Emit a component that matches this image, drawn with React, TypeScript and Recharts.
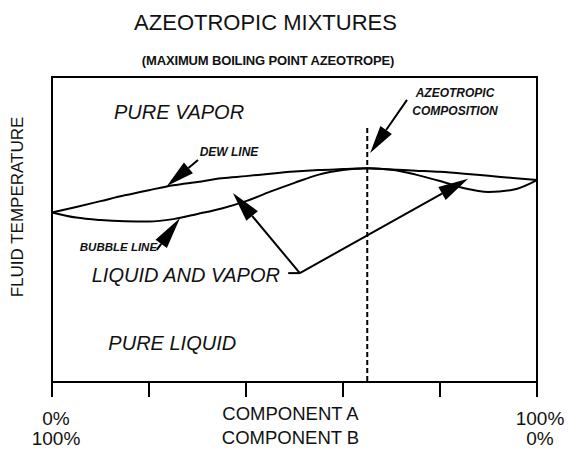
import React from 'react';
import { LineChart, Line, XAxis, YAxis, ReferenceLine, ReferenceArea, ReferenceDot, Label } from 'recharts';

// ---- data ----
const composition = [0, 5, 10, 15, 20, 25, 30, 35, 40, 45, 50, 55, 60, 65, 70, 75, 80, 85, 90, 95, 100];
const dewLine = [55.6, 57.4, 59.3, 61.2, 62.9, 64.5, 65.6, 66.8, 67.5, 68.3, 69.0, 69.5, 69.8, 70.1, 69.7, 69.3, 68.9, 68.3, 67.6, 66.9, 66.2];
const bubbleLine = [55.6, 53.9, 53.1, 52.7, 52.6, 53.4, 55.1, 56.9, 59.3, 62.4, 65.3, 68.0, 69.5, 70.1, 69.6, 68.0, 65.9, 63.5, 62.3, 63.0, 66.2];
const xTicks = [0, 20, 40, 60, 80, 100];
const leftTickLabel = ['0%', '100%'];
const rightTickLabel = ['100%', '0%'];
const centerAxisLabel = ['COMPONENT A', 'COMPONENT B'];
const azeotropeX = 65;

const titleText = 'AZEOTROPIC MIXTURES';
const subtitleText = '(MAXIMUM BOILING POINT AZEOTROPE)';
const yAxisTitle = 'FLUID TEMPERATURE';

const data = composition.map((x, i) => ({ x, dew: dewLine[i], bubble: bubbleLine[i] }));

const FONT = '"Liberation Sans", Arial, Helvetica, sans-serif';

const arrowShape = (headLen: number, headW: number) => (props: any) => {
  const { x1, y1, x2, y2 } = props;
  const dx = x2 - x1;
  const dy = y2 - y1;
  const len = Math.sqrt(dx * dx + dy * dy) || 1;
  const ux = dx / len;
  const uy = dy / len;
  const bx = x2 - ux * headLen;
  const by = y2 - uy * headLen;
  const px = -uy * (headW / 2);
  const py = ux * (headW / 2);
  return (
    <g>
      <line x1={x1} y1={y1} x2={bx} y2={by} stroke="#000" strokeWidth={2} />
      <polygon points={`${x2},${y2} ${bx + px},${by + py} ${bx - px},${by - py}`} fill="#000" />
    </g>
  );
};

const plainLine = (props: any) => {
  const { x1, y1, x2, y2 } = props;
  return <line x1={x1} y1={y1} x2={x2} y2={y2} stroke="#000" strokeWidth={2} />;
};

const textShape = (text: string, size: number, weight: string, anchor: string = 'middle') => (props: any) => (
  <text
    x={props.cx}
    y={props.cy}
    textAnchor={anchor}
    dominantBaseline="central"
    fontFamily={FONT}
    fontSize={size}
    fontStyle="italic"
    fontWeight={weight}
    fill="#111"
  >
    {text}
  </text>
);

const XTick = (props: any) => {
  const { x, payload } = props;
  const lines = payload.value === 0 ? leftTickLabel : payload.value === 100 ? rightTickLabel : null;
  if (!lines) return null;
  const dx = payload.value === 0 ? 4 : 3;
  return (
    <g>
      <text x={x + dx} y={425} textAnchor="middle" fontFamily={FONT} fontSize={19} fill="#111">{lines[0]}</text>
      <text x={x + dx} y={445} textAnchor="middle" fontFamily={FONT} fontSize={19} fill="#111">{lines[1]}</text>
    </g>
  );
};

const CenterLabel = (props: any) => {
  const vb = props.viewBox || {};
  const cx = vb.x + vb.width / 2 - 4;
  return (
    <g>
      <text x={cx} y={420} textAnchor="middle" fontFamily={FONT} fontSize={18.5} fill="#111">{centerAxisLabel[0]}</text>
      <text x={cx} y={444} textAnchor="middle" fontFamily={FONT} fontSize={18.5} fill="#111">{centerAxisLabel[1]}</text>
    </g>
  );
};

export default function App() {
  return (
    <div style={{ position: 'absolute', left: 0, top: 0, width: 569, height: 449, background: '#fff' }}>
      <LineChart width={569} height={449} data={data} margin={{ top: 77, right: 32, left: 52, bottom: 7 }}>
        <XAxis
          dataKey="x"
          type="number"
          domain={[0, 100]}
          ticks={xTicks}
          tickSize={15}
          height={60}
          axisLine={{ stroke: '#000', strokeWidth: 2 }}
          tickLine={{ stroke: '#000', strokeWidth: 2 }}
          tick={<XTick />}
          interval={0}
          label={<Label content={<CenterLabel />} />}
        />
        <YAxis hide type="number" domain={[0, 100]} />
        <ReferenceArea x1={0} x2={100} y1={0} y2={100} fill="none" fillOpacity={0} stroke="#000" strokeWidth={2} />
        <Line dataKey="dew" type="monotone" stroke="#000" strokeWidth={2} dot={false} isAnimationActive={false} />
        <Line dataKey="bubble" type="monotone" stroke="#000" strokeWidth={2} dot={false} isAnimationActive={false} />
        <ReferenceLine segment={[{ x: azeotropeX, y: 83.3 }, { x: azeotropeX, y: 0 }]} stroke="#000" strokeWidth={2} strokeDasharray="5 3" />

        <ReferenceLine segment={[{ x: 30.1, y: 72.8 }, { x: 23.7, y: 64.3 }]} shape={arrowShape(28, 14)} />
        <ReferenceLine segment={[{ x: 21.6, y: 43.3 }, { x: 26.4, y: 53.8 }]} shape={arrowShape(32, 14)} />
        <ReferenceLine segment={[{ x: 73.2, y: 92.5 }, { x: 65.6, y: 75.1 }]} shape={arrowShape(28, 14)} />
        <ReferenceLine segment={[{ x: 48.7, y: 35.7 }, { x: 51.1, y: 35.7 }]} shape={plainLine} />
        <ReferenceLine segment={[{ x: 51.1, y: 35.7 }, { x: 37.3, y: 62.0 }]} shape={arrowShape(30, 15)} />
        <ReferenceLine segment={[{ x: 51.1, y: 35.7 }, { x: 85.8, y: 66.6 }]} shape={arrowShape(30, 15)} />

        <ReferenceDot x={26.2} y={88.5} r={0} shape={textShape('PURE VAPOR', 20, 'normal')} />
        <ReferenceDot x={27.6} y={35.1} r={0} shape={textShape('LIQUID AND VAPOR', 20, 'normal')} />
        <ReferenceDot x={24.8} y={12.8} r={0} shape={textShape('PURE LIQUID', 20, 'normal')} />
        <ReferenceDot x={36.5} y={75.4} r={0} shape={textShape('DEW LINE', 12, 'bold')} />
        <ReferenceDot x={13.7} y={44.3} r={0} shape={textShape('BUBBLE LINE', 11.5, 'bold')} />
        <ReferenceDot x={83.1} y={94.8} r={0} shape={textShape('AZEOTROPIC', 12, 'bold')} />
        <ReferenceDot x={83.1} y={88.9} r={0} shape={textShape('COMPOSITION', 12, 'bold')} />
      </LineChart>
      <svg width={569} height={449} style={{ position: 'absolute', left: 0, top: 0, pointerEvents: 'none' }}>
        <text x={265.5} y={30} textAnchor="middle" fontFamily={FONT} fontSize={22} fill="#111">{titleText}</text>
        <text x={268} y={65} textAnchor="middle" fontFamily={FONT} fontSize={13} fontWeight="bold" letterSpacing={-0.15} fill="#111">{subtitleText}</text>
        <text
          x={17.5}
          y={207}
          textAnchor="middle"
          dominantBaseline="central"
          fontFamily={FONT}
          fontSize={17}
          fill="#111"
          transform="rotate(-90 17.5 207)"
        >
          {yAxisTitle}
        </text>
      </svg>
    </div>
  );
}
